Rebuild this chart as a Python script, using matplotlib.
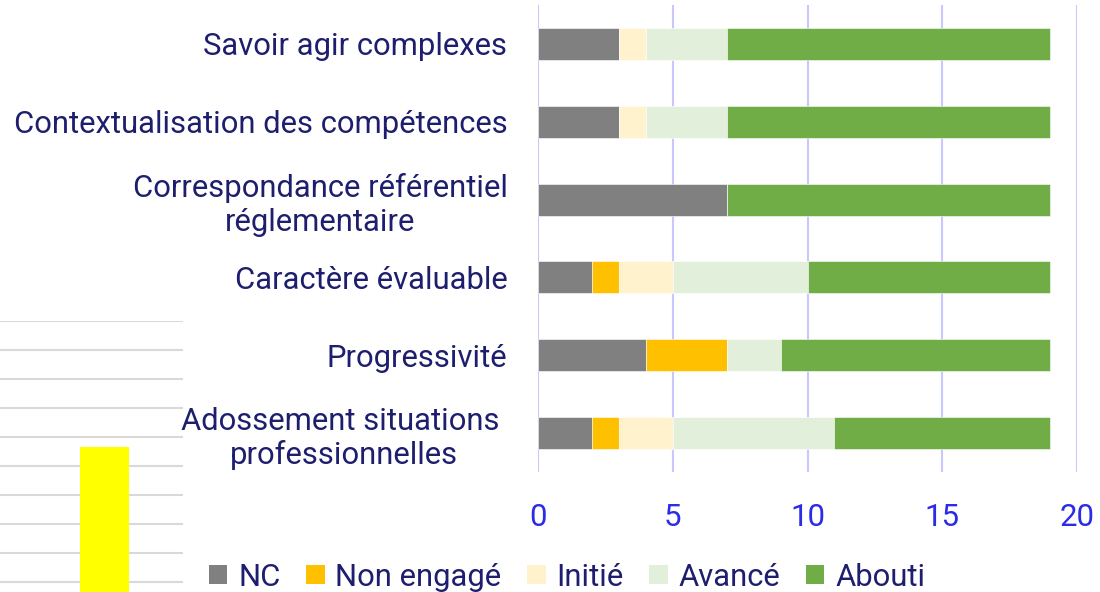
import matplotlib
matplotlib.use("Agg")
import matplotlib.pyplot as plt
from matplotlib.patches import Patch
import numpy as np

categories = ["Savoir agir complexes",
              "Contextualisation des compétences",
              "Correspondance référentiel\nréglementaire",
              "Caractère évaluable",
              "Progressivité",
              "Adossement situations \nprofessionnelles"]
series_names = ["NC", "Non engagé", "Initié", "Avancé", "Abouti"]
nc = [3, 3, 7, 2, 4, 2]
non_engage = [0, 0, 0, 1, 3, 1]
initie = [1, 1, 0, 2, 0, 2]
avance = [3, 3, 0, 5, 2, 6]
abouti = [12, 12, 12, 9, 10, 8]
xticks = [0, 5, 10, 15, 20]

# background fragment of another chart (bottom-left)
ghost_values = [5.65]

colors = ["#808080", "#FFC000", "#FFF2CC", "#E2EFDA", "#70AD47"]
navy = "#1E1E6E"
blue = "#2B2BE8"
FONT = "Roboto"
WEIGHT = "normal"

W, H = 1100, 592
fig = plt.figure(figsize=(W / 100, H / 100), dpi=100)

# ghost axes
gax = fig.add_axes([0 / W, -19 / H, 183 / W, 290 / H])
gax.set_xlim(0, 1)
gax.set_ylim(0, 10)
gax.bar([104.5 / 183], ghost_values, width=49 / 183, color="#FFFF00", zorder=2)
for v in range(0, 11):
    gax.axhline(v, color="#D9D9D9", lw=1.5, zorder=1)
gax.axis("off")

ax = fig.add_axes([538 / W, 1 - 472 / H, (1077 - 538) / W, (472 - 5) / H])
series = [nc, non_engage, initie, avance, abouti]
y = np.arange(len(categories))
left = np.zeros(len(categories))
for name, vals, c in zip(series_names, series, colors):
    ax.barh(y, vals, left=left, height=0.41, color=c, label=name, zorder=3,
            edgecolor="white", linewidth=0.4)
    left += np.array(vals)

ax.set_ylim(len(categories) - 0.5, -0.5)
ax.set_xlim(0, 20)
ax.set_xticks(xticks)
ax.xaxis.grid(True, color="#C8C8FF", lw=1.5, zorder=0)
ax.set_axisbelow(True)
for s in ax.spines.values():
    s.set_visible(False)
ax.tick_params(axis="x", length=0, pad=22, labelcolor=blue, labelsize=22.5)
ax.tick_params(axis="y", length=0, pad=22)
for lab in ax.get_xticklabels():
    lab.set_fontfamily(FONT)
    lab.set_fontweight(WEIGHT)
ax.set_yticks(y)
ax.set_yticklabels(categories, fontsize=22.3, color=navy, family=FONT,
                   fontweight=WEIGHT, multialignment="center")

handles = [Patch(facecolor=c, edgecolor="none") for c in colors]
leg = fig.legend(handles, series_names, loc="center", bbox_to_anchor=(567 / W, 1 - 577 / H),
                 ncol=5, frameon=False, handlelength=0.6, handleheight=0.6,
                 handletextpad=0.35, columnspacing=0.82,
                 prop={"family": FONT, "weight": WEIGHT, "size": 22.3})
for t in leg.get_texts():
    t.set_color(navy)

fig.savefig("out.png", dpi=100)
